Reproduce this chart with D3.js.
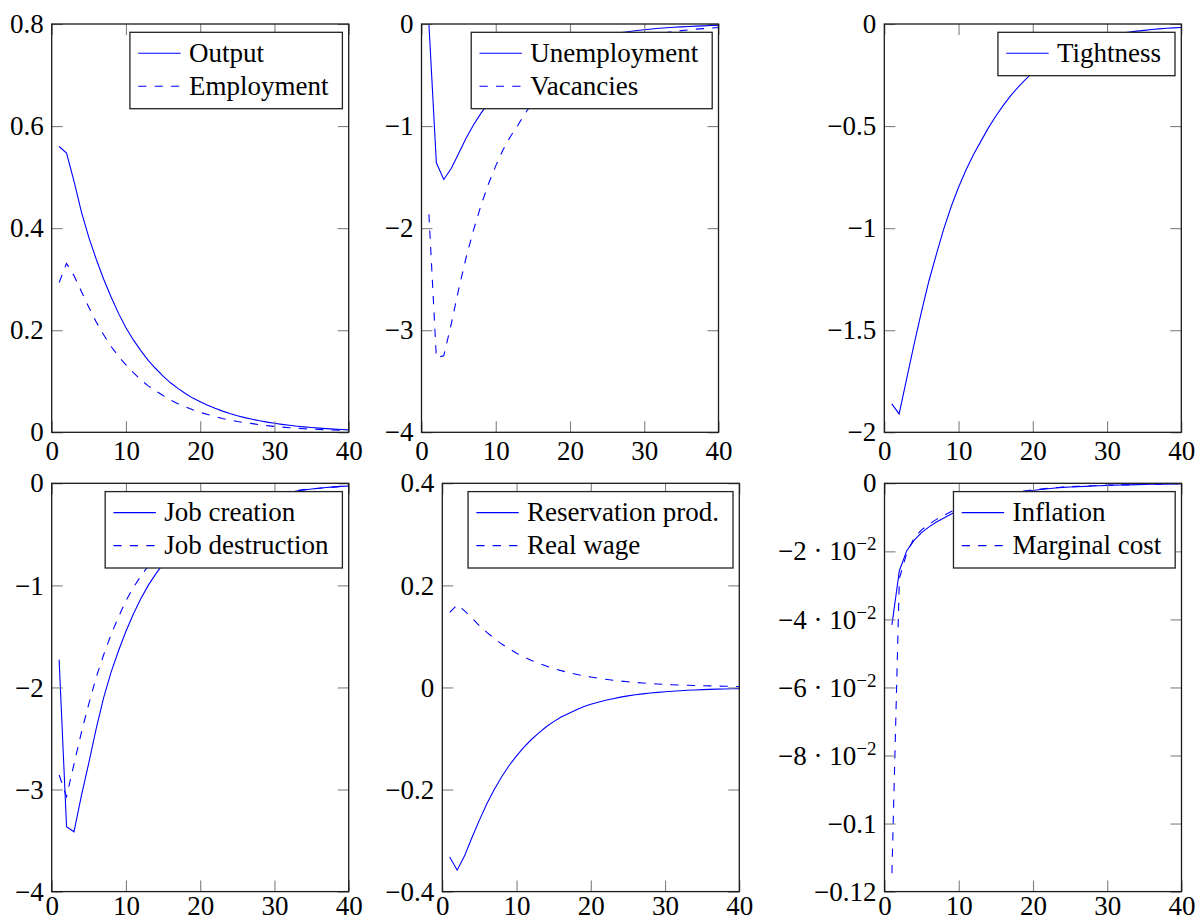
<!DOCTYPE html>
<html>
<head>
<meta charset="utf-8">
<script src="https://cdn.jsdelivr.net/npm/d3@7"></script>
<style>
  body { margin: 0; background: #fff; }
</style>
</head>
<body>
<div id="chart"></div>
<script>
// impulse responses, periods 1..40
const periods = d3.range(1, 41);

const output = [0.560, 0.547, 0.492, 0.432, 0.382, 0.339, 0.300, 0.265, 0.233, 0.205,
  0.181, 0.160, 0.141, 0.125, 0.110, 0.097, 0.086, 0.076, 0.067, 0.060,
  0.053, 0.047, 0.0415, 0.0367, 0.0325, 0.0288, 0.0255, 0.0225, 0.0199, 0.0176,
  0.0155, 0.0137, 0.0120, 0.0106, 0.0093, 0.0082, 0.0072, 0.0063, 0.0055, 0.0048];
const employment = [0.2935, 0.331, 0.307, 0.276, 0.245, 0.216, 0.191, 0.168, 0.149, 0.132,
  0.117, 0.103, 0.091, 0.081, 0.072, 0.063, 0.056, 0.050, 0.044, 0.039,
  0.035, 0.031, 0.027, 0.024, 0.021, 0.019, 0.017, 0.015, 0.013, 0.0115,
  0.0102, 0.0090, 0.0080, 0.0071, 0.0063, 0.0056, 0.0050, 0.0044, 0.0039, 0.0035];

const unemployment = [0.0, -1.36, -1.523, -1.415, -1.268, -1.12, -0.99, -0.876, -0.775, -0.686,
  -0.607, -0.537, -0.475, -0.42, -0.372, -0.329, -0.291, -0.258, -0.228, -0.202,
  -0.179, -0.158, -0.14, -0.124, -0.11, -0.096, -0.084, -0.073, -0.064, -0.056,
  -0.049, -0.042, -0.037, -0.032, -0.028, -0.024, -0.021, -0.018, -0.015, -0.013];
const vacancies = [-1.863, -3.268, -3.25, -2.94, -2.60, -2.29, -2.02, -1.78, -1.57, -1.39,
  -1.23, -1.10, -0.99, -0.87, -0.77, -0.68, -0.60, -0.53, -0.47, -0.415,
  -0.367, -0.324, -0.286, -0.253, -0.223, -0.197, -0.174, -0.154, -0.136, -0.12,
  -0.106, -0.094, -0.083, -0.073, -0.065, -0.057, -0.05, -0.045, -0.04, -0.035];

const tightness = [-1.861, -1.91, -1.74, -1.57, -1.41, -1.26, -1.13, -1.005, -0.895, -0.80,
  -0.715, -0.64, -0.575, -0.51, -0.452, -0.40, -0.352, -0.31, -0.272, -0.238,
  -0.208, -0.181, -0.158, -0.138, -0.12, -0.104, -0.091, -0.079, -0.069, -0.06,
  -0.052, -0.046, -0.04, -0.035, -0.031, -0.027, -0.024, -0.021, -0.019, -0.017];

const jobCreation = [-1.728, -3.365, -3.414, -3.06, -2.74, -2.40, -2.10, -1.85, -1.64, -1.45,
  -1.28, -1.13, -1.00, -0.89, -0.79, -0.70, -0.62, -0.55, -0.49, -0.43,
  -0.38, -0.335, -0.295, -0.26, -0.228, -0.2, -0.175, -0.153, -0.133, -0.116,
  -0.1, -0.087, -0.075, -0.065, -0.056, -0.048, -0.041, -0.035, -0.03, -0.026];
const jobDestruction = [-2.858, -3.07, -2.75, -2.44, -2.16, -1.90, -1.68, -1.48, -1.31, -1.15,
  -1.02, -0.91, -0.81, -0.72, -0.64, -0.57, -0.50, -0.445, -0.395, -0.35,
  -0.31, -0.275, -0.244, -0.216, -0.19, -0.168, -0.149, -0.132, -0.117, -0.103,
  -0.091, -0.08, -0.071, -0.062, -0.055, -0.048, -0.042, -0.037, -0.032, -0.028];

const reservationProd = [-0.332, -0.358, -0.330, -0.294, -0.260, -0.228, -0.200, -0.175, -0.153, -0.134,
  -0.117, -0.102, -0.089, -0.077, -0.067, -0.058, -0.051, -0.044, -0.038, -0.033,
  -0.029, -0.025, -0.022, -0.019, -0.0165, -0.0144, -0.0125, -0.011, -0.0096, -0.0084,
  -0.0073, -0.0064, -0.0056, -0.0049, -0.0043, -0.0038, -0.0033, -0.0029, -0.0026, -0.0023];
const realWage = [0.147, 0.162, 0.150, 0.136, 0.121, 0.108, 0.096, 0.085, 0.076, 0.067,
  0.060, 0.053, 0.047, 0.042, 0.037, 0.033, 0.029, 0.026, 0.023, 0.0205,
  0.018, 0.016, 0.0142, 0.0126, 0.0112, 0.0099, 0.0088, 0.0078, 0.0069, 0.0061,
  0.0054, 0.0048, 0.0043, 0.0038, 0.0034, 0.003, 0.0027, 0.0024, 0.0021, 0.0019];

const inflation = [-0.0416, -0.0257, -0.0198, -0.0167, -0.0145, -0.0128, -0.0114, -0.0102, -0.0090, -0.0079,
  -0.0069, -0.0061, -0.0053, -0.0047, -0.0041, -0.0036, -0.0031, -0.0027, -0.0024, -0.0021,
  -0.0018, -0.0016, -0.0014, -0.0012, -0.0011, -0.0010, -0.0009, -0.0008, -0.0007, -0.0006,
  -0.00055, -0.0005, -0.00045, -0.0004, -0.00035, -0.0003, -0.00027, -0.00024, -0.00021, -0.00019];
const marginalCost = [-0.1146, -0.0280, -0.0205, -0.0160, -0.0137, -0.0120, -0.0106, -0.0094, -0.0083, -0.0073,
  -0.0064, -0.0056, -0.0049, -0.0043, -0.0038, -0.0033, -0.0029, -0.0025, -0.0022, -0.0019,
  -0.0017, -0.0015, -0.0013, -0.0011, -0.0010, -0.0009, -0.0008, -0.0007, -0.0006, -0.00055,
  -0.0005, -0.00045, -0.0004, -0.00035, -0.0003, -0.00027, -0.00024, -0.00021, -0.00019, -0.00017];

// ticks
const xTicks = [0, 10, 20, 30, 40];
const yTicksOutput = [0, 0.2, 0.4, 0.6, 0.8];
const yTicksLabour = [-4, -3, -2, -1, 0];
const yTicksTightness = [-2, -1.5, -1, -0.5, 0];
const yTicksWage = [-0.4, -0.2, 0, 0.2, 0.4];
const yTicksPrices = [-0.12, -0.1, -0.08, -0.06, -0.04, -0.02, 0];
const yLabelsPrices = ['−0.12', '−0.1', '−8 · 10^−2', '−6 · 10^−2', '−4 · 10^−2', '−2 · 10^−2', '0'];

const W = 1196, H = 919;
const plotW = 297, plotH = 408.3, tickLen = 11;
const blue = '#0000ff';
const FONT = '"Liberation Serif"';
const FONT_SIZE = 27;

const panels = [
  { left: 51.7, top: 24, domain: [0, 0.8], ticks: yTicksOutput,
    lines: [[output, 'Output'], [employment, 'Employment']] },
  { left: 421.5, top: 24, domain: [-4, 0], ticks: yTicksLabour,
    lines: [[unemployment, 'Unemployment'], [vacancies, 'Vacancies']] },
  { left: 884.3, top: 24, domain: [-2, 0], ticks: yTicksTightness,
    lines: [[tightness, 'Tightness']] },
  { left: 51.7, top: 483.3, domain: [-4, 0], ticks: yTicksLabour,
    lines: [[jobCreation, 'Job creation'], [jobDestruction, 'Job destruction']] },
  { left: 442.3, top: 483.3, domain: [-0.4, 0.4], ticks: yTicksWage,
    lines: [[reservationProd, 'Reservation prod.'], [realWage, 'Real wage']] },
  { left: 884.5, top: 483.3, domain: [-0.12, 0], ticks: yTicksPrices, labels: yLabelsPrices,
    lines: [[inflation, 'Inflation'], [marginalCost, 'Marginal cost']] }
];

const svg = d3.select('#chart').append('svg')
  .attr('width', W)
  .attr('height', H);

const fmt = d3.format('~g');

function serif(sel, size) {
  return sel.style('font-family', FONT).style('font-size', `${size}px`).style('fill', '#000');
}

panels.forEach((p, i) => {
  const g = svg.append('g').attr('transform', `translate(${p.left},${p.top})`);
  const x = d3.scaleLinear().domain([0, 40]).range([0, plotW]);
  const y = d3.scaleLinear().domain(p.domain).range([plotH, 0]);

  const clipId = `clip-${i}`;
  g.append('clipPath').attr('id', clipId)
    .append('rect').attr('width', plotW).attr('height', plotH);

  const line = d3.line()
    .x((d, k) => x(periods[k]))
    .y(d => y(d));

  p.lines.forEach(([vals], k) => {
    g.append('path')
      .attr('clip-path', `url(#${clipId})`)
      .attr('d', line(vals))
      .attr('fill', 'none')
      .attr('stroke', blue)
      .attr('stroke-width', 1.1)
      .attr('stroke-dasharray', k ? '8.2,8.2' : null);
  });

  // axes, ticks inward on all four sides
  const bottomPad = p.top > 400 ? 4 : 8.5;  // keep the lower row's labels inside the page
  g.append('g').attr('transform', `translate(0,${plotH})`)
    .call(d3.axisBottom(x).tickValues(xTicks).tickSize(-tickLen).tickPadding(bottomPad));
  g.append('g')
    .call(d3.axisTop(x).tickValues(xTicks).tickSize(-tickLen).tickFormat(''));
  const yAxis = g.append('g')
    .call(d3.axisLeft(y).tickValues(p.ticks).tickSize(-tickLen).tickPadding(8)
      .tickFormat(p.labels ? (d, k) => p.labels[k] : fmt));
  g.append('g').attr('transform', `translate(${plotW},0)`)
    .call(d3.axisRight(y).tickValues(p.ticks).tickSize(-tickLen).tickFormat(''));

  g.selectAll('.domain').remove();
  g.selectAll('.tick line').attr('stroke', '#808080').attr('stroke-width', 1.1);
  serif(g.selectAll('.tick text'), FONT_SIZE);

  yAxis.selectAll('.tick text').each(function() {
    const t = d3.select(this);
    const s = t.text();
    if (s.includes('^')) {
      const [base, exp] = s.split('^');
      t.text(null);
      t.append('tspan').text(base);
      t.append('tspan').attr('dy', -10).style('font-size', '19px').text(exp);
    }
  });

  g.append('rect')
    .attr('width', plotW).attr('height', plotH)
    .attr('fill', 'none').attr('stroke', '#1a1a1a').attr('stroke-width', 1.3);

  // legend
  const lg = g.append('g');
  const box = lg.append('rect');
  const texts = p.lines.map(([, name], k) => serif(lg.append('text'), FONT_SIZE)
    .attr('x', 59)
    .attr('y', 21 + 33 * k + 8.6)
    .text(name));
  p.lines.forEach((d, k) => {
    lg.append('line')
      .attr('x1', 8.3).attr('x2', 50.7)
      .attr('y1', 21 + 33 * k).attr('y2', 21 + 33 * k)
      .attr('stroke', blue).attr('stroke-width', 1.1)
      .attr('stroke-dasharray', k ? '8.2,8.2' : null);
  });
  const tw = d3.max(texts, t => t.node().getComputedTextLength());
  const bw = 59 + tw + 14;
  const bh = 43.4 + 33 * (p.lines.length - 1);
  box.attr('width', bw).attr('height', bh)
    .attr('fill', '#fff').attr('stroke', '#222').attr('stroke-width', 1.3);
  lg.attr('transform', `translate(${plotW - 6.3 - bw},8.3)`);
});
</script>
</body>
</html>
